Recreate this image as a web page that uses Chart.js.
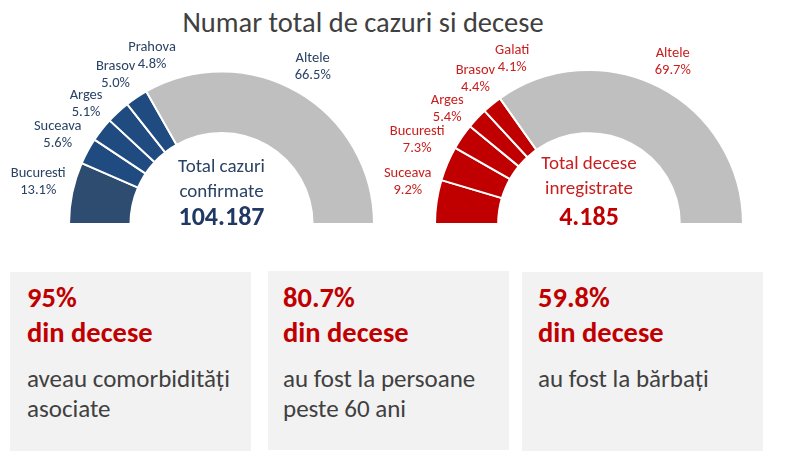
<!DOCTYPE html>
<html>
<head>
<meta charset="utf-8">
<script src="https://cdn.jsdelivr.net/npm/chart.js@4.4.0/dist/chart.umd.min.js"></script>
<style>
  body { margin: 0; width: 785px; height: 468px; background: #fff; position: relative; overflow: hidden;
         font-family: Calibri, Carlito, Lato, sans-serif; }
  canvas { position: absolute; left: 0; top: 0; }
  #title { position: absolute; left: 0; top: 8px; width: 726px; text-align: center; font-size: 28.5px;
           line-height: 30px; color: #404040; }
  .box { position: absolute; background: #f2f2f2; width: 241px; height: 179px; }
  .box .big { position: absolute; font-weight: bold; font-size: 28.5px; line-height: 35px; color: #c00000; white-space: nowrap; }
  .box .small { position: absolute; font-size: 25px; line-height: 30px; color: #404040; white-space: nowrap; }
</style>
</head>
<body>
<div id="title">Numar total de cazuri si decese</div>
<canvas id="casesChart" width="785" height="250"></canvas>
<canvas id="deathsChart" width="785" height="250"></canvas>
<div id="boxes"></div>
<script>
const casesLabels = ['Bucuresti', 'Suceava', 'Arges', 'Brasov', 'Prahova', 'Altele'];
const casesPct = [13.1, 5.6, 5.1, 5.0, 4.8, 66.5];
const casesTotal = '104.187';

const deathsLabels = ['Suceava', 'Bucuresti', 'Arges', 'Brasov', 'Galati', 'Altele'];
const deathsPct = [9.2, 7.3, 5.4, 4.4, 4.1, 69.7];
const deathsTotal = '4.185';

const statPct = ['95%', '80.7%', '59.8%'];
const statText = [
    ['aveau comorbidități', 'asociate'],
    ['au fost la persoane', 'peste 60 ani'],
    ['au fost la bărbați'],
];

const FONT = 'Calibri, Carlito, Lato, sans-serif';

// labels outside the arc, spread so neighbours (and the base line) keep an angular distance
const outLabels = {
    id: 'outLabels',
    afterDatasetsDraw(chart, args, opts) {
        const { ctx } = chart;
        const meta = chart.getDatasetMeta(0);
        const names = chart.data.labels;
        const vals = chart.data.datasets[0].data;
        ctx.save();
        ctx.font = opts.font;
        ctx.fillStyle = opts.color;
        ctx.textAlign = 'center';
        ctx.textBaseline = 'middle';
        let prev = meta.data[0].getProps(['startAngle'], true).startAngle;
        meta.data.forEach((arc, i) => {
            const p = arc.getProps(['x', 'y', 'startAngle', 'endAngle', 'outerRadius'], true);
            const a = Math.max((p.startAngle + p.endAngle) / 2, prev + opts.minSep);
            prev = a;
            const lines = [names[i], vals[i].toFixed(1) + '%'];
            const w = Math.max(...lines.map(s => ctx.measureText(s).width));
            const h = opts.lineHeight * lines.length;
            const d = p.outerRadius + opts.gap + Math.abs(Math.cos(a)) * w / 2 + Math.abs(Math.sin(a)) * h / 2;
            const cx = p.x + Math.cos(a) * d;
            const cy = p.y + Math.sin(a) * d;
            lines.forEach((s, j) => {
                ctx.fillText(s, cx, cy + (j - (lines.length - 1) / 2) * opts.lineHeight);
            });
        });
        ctx.restore();
    }
};

const centerText = {
    id: 'centerText',
    afterDatasetsDraw(chart, args, opts) {
        const { ctx } = chart;
        const arc = chart.getDatasetMeta(0).data[0];
        ctx.save();
        ctx.textAlign = 'center';
        ctx.textBaseline = 'alphabetic';
        opts.lines.forEach(l => {
            ctx.font = l.font;
            ctx.fillStyle = l.color;
            ctx.fillText(l.text, arc.x, arc.y + l.dy);
        });
        ctx.restore();
    }
};

function halfDoughnut(id, labels, values, colors, cutout, padding, labelColor, center) {
    return new Chart(document.getElementById(id), {
        type: 'doughnut',
        data: {
            labels: labels,
            datasets: [{
                data: values,
                backgroundColor: colors,
                borderColor: '#ffffff',
                borderWidth: 2,
            }],
        },
        options: {
            responsive: false,
            animation: false,
            rotation: -90,
            circumference: 180,
            cutout: cutout,
            layout: { padding: padding },
            plugins: {
                legend: { display: false },
                tooltip: { enabled: false },
                outLabels: { font: '14.5px ' + FONT, color: labelColor, lineHeight: 17, gap: 5, minSep: 13 * Math.PI / 180 },
                centerText: { lines: center },
            },
        },
        plugins: [outLabels, centerText],
    });
}

const blue = '#1f4b80';
halfDoughnut('casesChart', casesLabels, casesPct,
    ['#2e4b70', blue, blue, blue, blue, '#bfbfbf'], '59.7%',
    { left: 68, right: 410, top: 70.5, bottom: 25 }, '#2a4365',
    [
        { text: 'Total cazuri', font: '19px ' + FONT, color: '#2a4365', dy: -52.5 },
        { text: 'confirmate', font: '19px ' + FONT, color: '#2a4365', dy: -27.5 },
        { text: casesTotal, font: 'bold 26px ' + FONT, color: '#1f3864', dy: 1 },
    ]);

const red = '#c00000';
halfDoughnut('deathsChart', deathsLabels, deathsPct,
    [red, red, red, red, red, '#bfbfbf'], '59%',
    { left: 433, right: 40, top: 69, bottom: 25 }, '#c81e1e',
    [
        { text: 'Total decese', font: '19px ' + FONT, color: '#c81e1e', dy: -55 },
        { text: 'inregistrate', font: '19px ' + FONT, color: '#c81e1e', dy: -30 },
        { text: deathsTotal, font: 'bold 26px ' + FONT, color: red, dy: 1 },
    ]);

// stat boxes
const boxLeft = [10, 268, 522];
const boxTop = [272, 271, 272];
const boxPad = [17, 15, 16];
const host = document.getElementById('boxes');
statPct.forEach((pct, i) => {
    const b = document.createElement('div');
    b.className = 'box';
    b.style.left = boxLeft[i] + 'px';
    b.style.top = boxTop[i] + 'px';
    const big = document.createElement('div');
    big.className = 'big';
    big.style.left = boxPad[i] + 'px';
    big.style.top = (280 - boxTop[i]) + 'px';
    big.innerHTML = pct + '<br>din decese';
    const small = document.createElement('div');
    small.className = 'small';
    small.style.left = boxPad[i] + 'px';
    small.style.top = (363.5 - boxTop[i]) + 'px';
    small.innerHTML = statText[i].join('<br>');
    b.appendChild(big);
    b.appendChild(small);
    host.appendChild(b);
});
</script>
</body>
</html>
